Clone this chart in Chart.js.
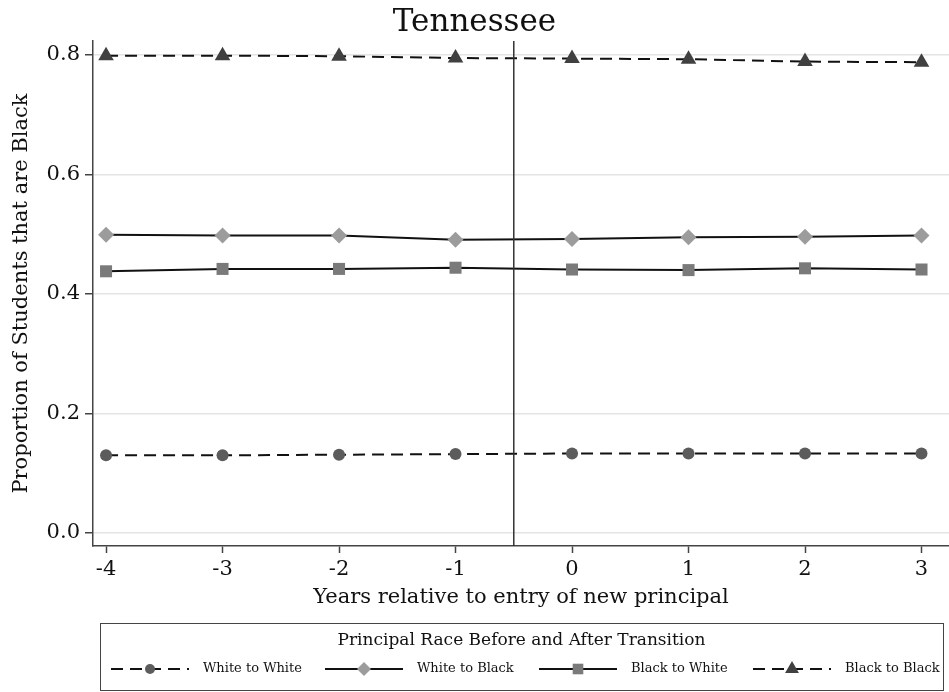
<!DOCTYPE html>
<html>
<head>
<meta charset="utf-8">
<script src="https://cdn.jsdelivr.net/npm/chart.js@4.4.1/dist/chart.umd.min.js"></script>
<style>
  html, body { margin: 0; padding: 0; background: #fff; }
  canvas { display: block; }
</style>
</head>
<body>
<canvas id="chart" width="949" height="692"></canvas>
<script>
// data
const years = [-4, -3, -2, -1, 0, 1, 2, 3];
const whiteToWhite = [0.130, 0.130, 0.131, 0.132, 0.133, 0.133, 0.133, 0.133];
const whiteToBlack = [0.499, 0.498, 0.498, 0.491, 0.492, 0.495, 0.496, 0.498];
const blackToWhite = [0.438, 0.442, 0.442, 0.444, 0.441, 0.440, 0.443, 0.441];
const blackToBlack = [0.799, 0.799, 0.798, 0.795, 0.794, 0.793, 0.789, 0.788];

const seriesLabels = ['White to White', 'White to Black', 'Black to White', 'Black to Black'];
const yTicks = [0, 0.2, 0.4, 0.6, 0.8];
const entryLine = -0.5;

const FONT = 'DejaVu Serif';
Chart.defaults.font.family = FONT;
Chart.defaults.color = '#111';

const toPoints = (vals) => years.map((x, i) => ({ x, y: vals[i] }));

const seriesStyle = [
  { dash: [12, 7], style: 'circle', radius: 6, color: '#5c5c5c' },
  { dash: [], style: 'rectRot', radius: 8, color: '#9c9c9c' },
  { dash: [], style: 'rect', radius: 8.5, color: '#7a7a7a' },
  { dash: [12, 7], style: 'triangle', radius: 9, color: '#404040' },
];
const seriesValues = [whiteToWhite, whiteToBlack, blackToWhite, blackToBlack];

const datasets = seriesValues.map((vals, i) => {
  const s = seriesStyle[i];
  return {
    label: seriesLabels[i],
    data: toPoints(vals),
    borderColor: '#111',
    borderWidth: 2,
    borderDash: s.dash,
    pointStyle: s.style,
    pointRadius: s.radius,
    pointHoverRadius: s.radius,
    pointBackgroundColor: s.color,
    pointBorderColor: s.color,
    pointBorderWidth: 0,
    fill: false,
    tension: 0,
  };
});

// vertical reference line at principal entry
const entryLinePlugin = {
  id: 'entryLine',
  afterDatasetsDraw(chart) {
    const { ctx, chartArea, scales } = chart;
    const px = scales.x.getPixelForValue(entryLine);
    ctx.save();
    ctx.strokeStyle = '#333';
    ctx.lineWidth = 1.5;
    ctx.beginPath();
    ctx.moveTo(px, chartArea.top);
    ctx.lineTo(px, chartArea.bottom);
    ctx.stroke();
    ctx.restore();
  },
};

// Stata-style boxed legend below the plot
const boxLegendPlugin = {
  id: 'boxLegend',
  afterDraw(chart) {
    const { ctx } = chart;
    const left = 100, right = 943;
    const top = chart.height - 69, bottom = chart.height - 2;
    ctx.save();
    ctx.strokeStyle = '#444';
    ctx.lineWidth = 1;
    ctx.strokeRect(left + 0.5, top + 0.5, right - left, bottom - top);

    ctx.fillStyle = '#111';
    ctx.textAlign = 'center';
    ctx.textBaseline = 'middle';
    ctx.font = `17px "${FONT}"`;
    ctx.fillText('Principal Race Before and After Transition', (left + right) / 2, top + 18);

    const rowY = top + 46;
    chart.data.datasets.forEach((ds, i) => {
      const x0 = left + 11 + i * 214;
      const x1 = x0 + 78;
      ctx.strokeStyle = ds.borderColor;
      ctx.lineWidth = ds.borderWidth;
      ctx.setLineDash(ds.borderDash);
      ctx.beginPath();
      ctx.moveTo(x0, rowY);
      ctx.lineTo(x1, rowY);
      ctx.stroke();
      ctx.setLineDash([]);
      ctx.fillStyle = ds.pointBackgroundColor;
      Chart.helpers.drawPoint(ctx, {
        pointStyle: ds.pointStyle,
        radius: ds.pointRadius - 1,
        rotation: 0,
        borderWidth: 0,
      }, (x0 + x1) / 2, rowY);
      ctx.fillStyle = '#111';
      ctx.textAlign = 'left';
      ctx.font = `13px "${FONT}"`;
      ctx.fillText(ds.label, x1 + 14, rowY);
    });
    ctx.restore();
  },
};

new Chart(document.getElementById('chart'), {
  type: 'line',
  data: { datasets },
  plugins: [entryLinePlugin, boxLegendPlugin],
  options: {
    responsive: false,
    animation: false,
    devicePixelRatio: 1,
    events: [],
    layout: { autoPadding: false, padding: { top: 0, left: 0, right: 0, bottom: 80 } },
    plugins: {
      legend: { display: false },
      tooltip: { enabled: false },
      title: {
        display: true,
        text: 'Tennessee',
        color: '#111',
        font: { size: 31, weight: 'normal', lineHeight: 1.05 },
        padding: { top: 7, bottom: 1.5 },
      },
    },
    scales: {
      x: {
        type: 'linear',
        min: -4.112,
        max: 3.236,
        afterFit: (scale) => {
          scale.height = 66;
          scale.paddingLeft = 0;
          scale.paddingRight = 0;
        },
        afterBuildTicks: (scale) => { scale.ticks = years.map((v) => ({ value: v })); },
        grid: { drawOnChartArea: false, drawTicks: true, tickLength: 7, tickColor: '#444', tickWidth: 1.5 },
        border: { display: true, color: '#444', width: 1.5 },
        ticks: { font: { size: 21 }, color: '#111', padding: 4, callback: (v) => String(v) },
        title: {
          display: true,
          text: 'Years relative to entry of new principal',
          color: '#111',
          font: { size: 21 },
          padding: { top: 0, bottom: 2 },
        },
      },
      y: {
        type: 'linear',
        min: -0.0218,
        max: 0.8234,
        afterFit: (scale) => {
          scale.width = 93;
          scale.paddingTop = 0;
          scale.paddingBottom = 0;
        },
        afterBuildTicks: (scale) => { scale.ticks = yTicks.map((v) => ({ value: v })); },
        grid: { color: '#e4e4e4', lineWidth: 1.5, drawTicks: true, tickLength: 8, tickColor: '#444', tickWidth: 1.5 },
        border: { display: true, color: '#444', width: 1.5 },
        ticks: { font: { size: 21 }, color: '#111', padding: 5, callback: (v) => Number(v).toFixed(1) },
        title: {
          display: true,
          text: 'Proportion of Students that are Black',
          color: '#111',
          font: { size: 21 },
          padding: { top: 9, bottom: 0 },
        },
      },
    },
  },
});
</script>
</body>
</html>
